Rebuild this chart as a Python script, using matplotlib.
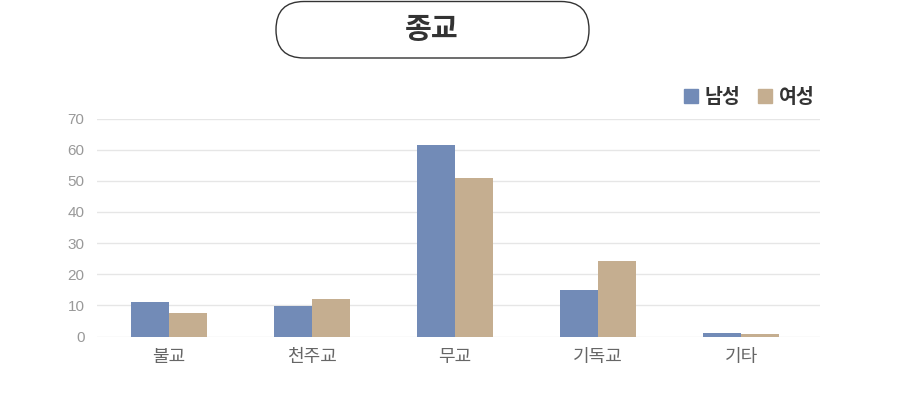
import numpy as np
import matplotlib.pyplot as plt
from matplotlib.patches import FancyBboxPatch, Patch

plt.rcParams['font.family'] = ['Noto Sans CJK KR', 'DejaVu Sans']

# data
categories = ['불교', '천주교', '무교', '기독교', '기타']
male = [11.1, 9.8, 61.5, 14.9, 1.1]
female = [7.6, 12.0, 50.9, 24.2, 0.8]
series_names = ['남성', '여성']
yticks = [0, 10, 20, 30, 40, 50, 60, 70]

c_male = '#728bb7'
c_female = '#c5ae90'

fig = plt.figure(figsize=(9, 4.01), dpi=100)

# overlay in pixel units for the title pill
bg = fig.add_axes([0, 0, 1, 1])
bg.set_xlim(0, 900)
bg.set_ylim(401, 0)
bg.axis('off')
pill = FancyBboxPatch((276, 1.5), 313, 56.5, boxstyle='round,pad=0,rounding_size=28',
                      facecolor='white', edgecolor='#333333', linewidth=1)
bg.add_patch(pill)
bg.text(432, 29, '종교', ha='center', va='center', fontsize=21,
        fontweight='bold', color='#333333')

ax = fig.add_axes([97 / 900, 64.5 / 401, 723 / 900, 218 / 401])

x = np.arange(len(categories))
w = 0.265
ax.bar(x - w / 2, male, w, color=c_male, zorder=3)
ax.bar(x + w / 2, female, w, color=c_female, zorder=3)

ax.set_xlim(-0.5, len(categories) - 0.45)
ax.set_ylim(0, 70)
ax.set_yticks(yticks)
ax.set_yticklabels([str(v) for v in yticks], family='Liberation Sans')
ax.set_xticks(x)
ax.set_xticklabels(categories, fontsize=13, color='#666666', fontweight='medium')
ax.tick_params(axis='y', length=0, pad=9, labelsize=11, labelcolor='#999999')
ax.tick_params(axis='x', length=0, pad=8)
ax.grid(axis='y', color='#e6e6e6', linewidth=1, zorder=0)
for s in ax.spines.values():
    s.set_visible(False)

handles = [Patch(color=c_male), Patch(color=c_female)]
fig.legend(handles, series_names, loc='upper right', bbox_to_anchor=(822 / 900, 1 - 80 / 401),
           ncol=2, frameon=False, prop={'size': 14, 'weight': 'bold'},
           handlelength=0.7, handleheight=0.7, handletextpad=0.35, columnspacing=0.9,
           labelcolor='#333333', borderaxespad=0)

fig.savefig('out.png', dpi=100)
